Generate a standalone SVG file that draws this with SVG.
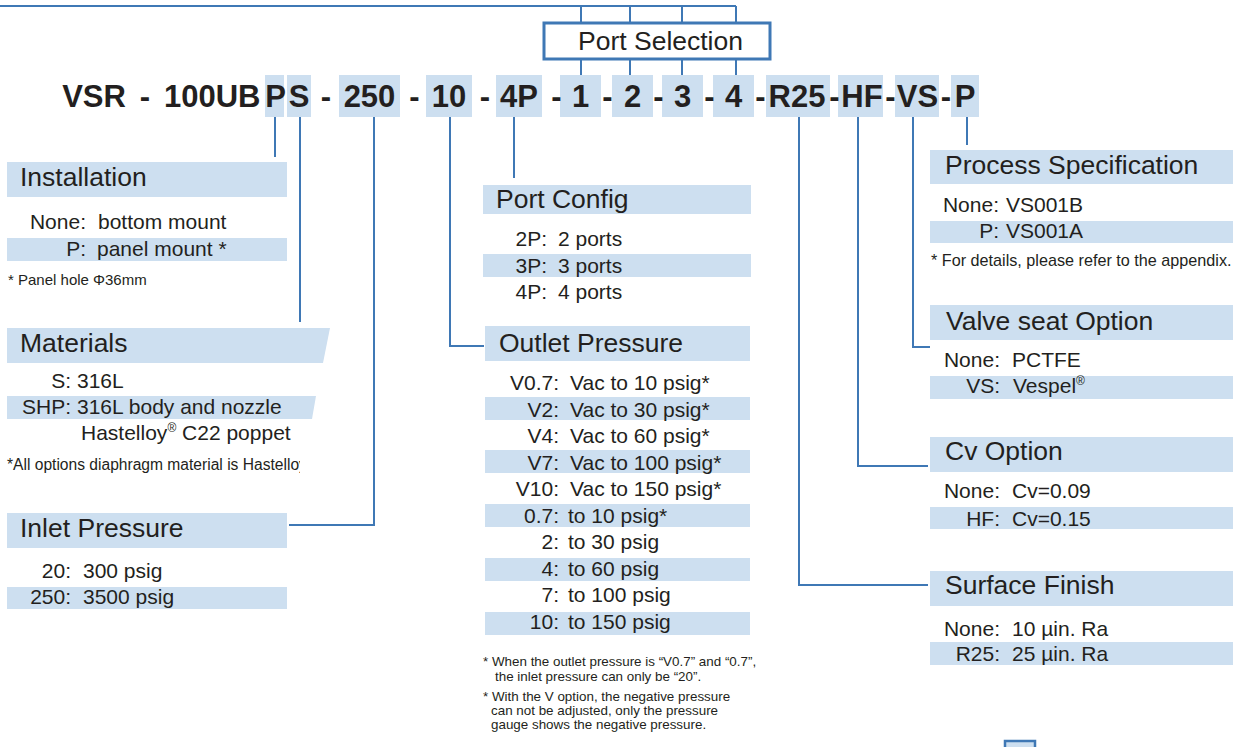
<svg xmlns="http://www.w3.org/2000/svg" width="1237" height="747" viewBox="0 0 1237 747">
<style>
text{font-family:"Liberation Sans",Arial,sans-serif;fill:#231f20}
.code{font-size:31px;font-weight:bold;text-anchor:middle}
.hdr{font-size:26.5px}
.row{font-size:21px}
.lab{font-size:21px;text-anchor:end}
.note{font-size:15.6px}
.fn{font-size:13.4px}
.hl{fill:#cddff0}
.cn{fill:none;stroke:#3f78b5;stroke-width:2}
</style>
<defs>
<clipPath id="clipMat"><rect x="0" y="450" width="300" height="30"/></clipPath>
</defs>
<rect width="1237" height="747" fill="#fff"/>

<g id="connectors">
<polyline class="cn" points="0,6 736,6"/>
<line class="cn" x1="581" y1="6" x2="581" y2="23"/>
<line class="cn" x1="630" y1="6" x2="630" y2="23"/>
<line class="cn" x1="682" y1="6" x2="682" y2="23"/>
<line class="cn" x1="736" y1="6" x2="736" y2="23"/>
<line class="cn" x1="581" y1="59" x2="581" y2="75"/>
<line class="cn" x1="630" y1="59" x2="630" y2="75"/>
<line class="cn" x1="682" y1="59" x2="682" y2="75"/>
<line class="cn" x1="736" y1="59" x2="736" y2="75"/>
<polyline class="cn" points="275,117 275,157"/>
<polyline class="cn" points="300,117 300,322"/>
<polyline class="cn" points="374,117 374,525 289,525"/>
<polyline class="cn" points="450,117 450,346 484,346"/>
<polyline class="cn" points="514,117 514,178"/>
<polyline class="cn" points="799,117 799,585 928,585"/>
<polyline class="cn" points="858,117 858,466 928,466"/>
<polyline class="cn" points="913,117 913,347 930,347"/>
<polyline class="cn" points="967,117 967,145"/>
</g>

<g id="port-selection">
<rect x="544" y="23" width="226" height="36" fill="#fff" stroke="#3f78b5" stroke-width="3"/>
<text class="hdr" x="578" y="50">Port Selection</text>
</g>

<g id="model-code">
<rect class="hl" x="265" y="75" width="19" height="42"/>
<rect class="hl" x="287" y="75" width="24" height="42"/>
<rect class="hl" x="339" y="75" width="61" height="42"/>
<rect class="hl" x="426" y="75" width="46" height="42"/>
<rect class="hl" x="496" y="75" width="46" height="42"/>
<rect class="hl" x="560" y="75" width="41" height="42"/>
<rect class="hl" x="612" y="75" width="41" height="42"/>
<rect class="hl" x="662" y="75" width="41" height="42"/>
<rect class="hl" x="713" y="75" width="41" height="42"/>
<rect class="hl" x="766" y="75" width="64" height="42"/>
<rect class="hl" x="838" y="75" width="45" height="42"/>
<rect class="hl" x="895" y="75" width="44" height="42"/>
<rect class="hl" x="951" y="75" width="28" height="42"/>
<text class="code" x="94" y="107">VSR</text>
<text class="code" x="145" y="107">-</text>
<text class="code" x="164" y="107" style="text-anchor:start">100UB</text>
<text class="code" x="275.5" y="107">P</text>
<text class="code" x="299" y="107">S</text>
<text class="code" x="326" y="107">-</text>
<text class="code" x="369.5" y="107">250</text>
<text class="code" x="414.5" y="107">-</text>
<text class="code" x="449" y="107">10</text>
<text class="code" x="485" y="107">-</text>
<text class="code" x="519" y="107">4P</text>
<text class="code" x="556.5" y="107">-</text>
<text class="code" x="580.5" y="107">1</text>
<text class="code" x="607.5" y="107">-</text>
<text class="code" x="632.5" y="107">2</text>
<text class="code" x="658.5" y="107">-</text>
<text class="code" x="682.5" y="107">3</text>
<text class="code" x="709.5" y="107">-</text>
<text class="code" x="733.5" y="107">4</text>
<text class="code" x="760.5" y="107">-</text>
<text class="code" x="797" y="107">R25</text>
<text class="code" x="834.5" y="107">-</text>
<text class="code" x="862" y="107">HF</text>
<text class="code" x="890.5" y="107">-</text>
<text class="code" x="917.5" y="107">VS</text>
<text class="code" x="946" y="107">-</text>
<text class="code" x="965" y="107">P</text>
</g>

<g id="installation">
<rect class="hl" x="7" y="162" width="280" height="35"/>
<text class="hdr" x="20" y="186">Installation</text>
<text class="lab" x="86" y="229">None:</text>
<text class="row" x="98" y="229">bottom mount</text>
<rect class="hl" x="7" y="238" width="280" height="23"/>
<text class="lab" x="86" y="256">P:</text>
<text class="row" x="97" y="256">panel mount *</text>
<text class="note" x="8" y="285" style="font-size:15px">* Panel hole Φ36mm</text>
</g>

<g id="materials">
<polygon class="hl" points="7,328 330,328 323,363 7,363"/>
<text class="hdr" x="20" y="352">Materials</text>
<text class="lab" x="71" y="388">S:</text>
<text class="row" x="77" y="388">316L</text>
<polygon class="hl" points="7,396 316,396 312,419 7,419"/>
<text class="lab" x="71" y="414">SHP:</text>
<text class="row" x="77" y="414">316L body and nozzle</text>
<text class="row" x="81" y="440">Hastelloy<tspan font-size="12" dy="-8">®</tspan><tspan dy="8"> C22 poppet</tspan></text>
<text class="note" x="7" y="470" clip-path="url(#clipMat)">*All options diaphragm material is Hastelloy</text>
</g>

<g id="inlet-pressure">
<rect class="hl" x="7" y="513" width="280" height="35"/>
<text class="hdr" x="20" y="537">Inlet Pressure</text>
<text class="lab" x="71" y="578">20:</text>
<text class="row" x="83" y="578">300 psig</text>
<rect class="hl" x="7" y="587" width="280" height="22"/>
<text class="lab" x="71" y="604">250:</text>
<text class="row" x="83" y="604">3500 psig</text>
</g>

<g id="port-config">
<rect class="hl" x="483" y="185" width="268" height="29"/>
<text class="hdr" x="496" y="208">Port Config</text>
<text class="lab" x="547" y="246">2P:</text>
<text class="row" x="558" y="246">2 ports</text>
<rect class="hl" x="483" y="254" width="268" height="23"/>
<text class="lab" x="547" y="273">3P:</text>
<text class="row" x="558" y="273">3 ports</text>
<text class="lab" x="547" y="299">4P:</text>
<text class="row" x="558" y="299">4 ports</text>
</g>

<g id="outlet-pressure">
<rect class="hl" x="485" y="326" width="265" height="35"/>
<text class="hdr" x="499" y="352">Outlet Pressure</text>
<rect class="hl" x="485" y="397" width="265" height="23"/>
<rect class="hl" x="485" y="450" width="265" height="23"/>
<rect class="hl" x="485" y="504" width="265" height="23"/>
<rect class="hl" x="485" y="558" width="265" height="23"/>
<rect class="hl" x="485" y="612" width="265" height="23"/>
<text class="lab" x="559" y="390">V0.7:</text><text class="row" x="570" y="390">Vac to 10 psig*</text>
<text class="lab" x="559" y="417">V2:</text><text class="row" x="570" y="417">Vac to 30 psig*</text>
<text class="lab" x="559" y="443">V4:</text><text class="row" x="570" y="443">Vac to 60 psig*</text>
<text class="lab" x="559" y="470">V7:</text><text class="row" x="570" y="470">Vac to 100 psig*</text>
<text class="lab" x="559" y="496">V10:</text><text class="row" x="570" y="496">Vac to 150 psig*</text>
<text class="lab" x="559" y="523">0.7:</text><text class="row" x="568" y="523">to 10 psig*</text>
<text class="lab" x="559" y="549">2:</text><text class="row" x="568" y="549">to 30 psig</text>
<text class="lab" x="559" y="576">4:</text><text class="row" x="568" y="576">to 60 psig</text>
<text class="lab" x="559" y="602">7:</text><text class="row" x="568" y="602">to 100 psig</text>
<text class="lab" x="559" y="629">10:</text><text class="row" x="568" y="629">to 150 psig</text>
<text class="fn" x="483" y="666">* When the outlet pressure is “V0.7” and “0.7”,</text>
<text class="fn" x="495" y="681">the inlet pressure can only be “20”.</text>
<text class="fn" x="483" y="701">* With the V option, the negative pressure</text>
<text class="fn" x="491" y="715">can not be adjusted, only the pressure</text>
<text class="fn" x="491" y="729">gauge shows the negative pressure.</text>
</g>

<g id="process-specification">
<rect class="hl" x="930" y="150" width="303" height="34"/>
<text class="hdr" x="945" y="174">Process Specification</text>
<text class="lab" x="999" y="212">None:</text><text class="row" x="1006" y="212">VS001B</text>
<rect class="hl" x="930" y="221" width="303" height="22"/>
<text class="lab" x="999" y="238">P:</text><text class="row" x="1006" y="238">VS001A</text>
<text class="note" x="931" y="266" style="font-size:16.2px">* For details, please refer to the appendix.</text>
</g>

<g id="valve-seat-option">
<rect class="hl" x="930" y="305" width="303" height="35"/>
<text class="hdr" x="946" y="330">Valve seat Option</text>
<text class="lab" x="1000" y="367">None:</text><text class="row" x="1012" y="367">PCTFE</text>
<rect class="hl" x="930" y="376" width="303" height="23"/>
<text class="lab" x="1000" y="393">VS:</text><text class="row" x="1013" y="393">Vespel<tspan font-size="12" dy="-8">®</tspan></text>
</g>

<g id="cv-option">
<rect class="hl" x="930" y="437" width="303" height="35"/>
<text class="hdr" x="945" y="460">Cv Option</text>
<text class="lab" x="1000" y="498">None:</text><text class="row" x="1012" y="498">Cv=0.09</text>
<rect class="hl" x="930" y="507" width="303" height="22"/>
<text class="lab" x="1000" y="526">HF:</text><text class="row" x="1012" y="526">Cv=0.15</text>
</g>

<g id="surface-finish">
<rect class="hl" x="930" y="571" width="303" height="35"/>
<text class="hdr" x="945" y="594">Surface Finish</text>
<text class="lab" x="1000" y="636">None:</text><text class="row" x="1012" y="636">10 µin. Ra</text>
<rect class="hl" x="930" y="642" width="303" height="23"/>
<text class="lab" x="1000" y="661">R25:</text><text class="row" x="1012" y="661">25 µin. Ra</text>
</g>

<g id="corner-mark">
<rect x="1005" y="741" width="30" height="12" fill="#cddff0" stroke="#3f78b5" stroke-width="2.5"/>
</g>
</svg>
